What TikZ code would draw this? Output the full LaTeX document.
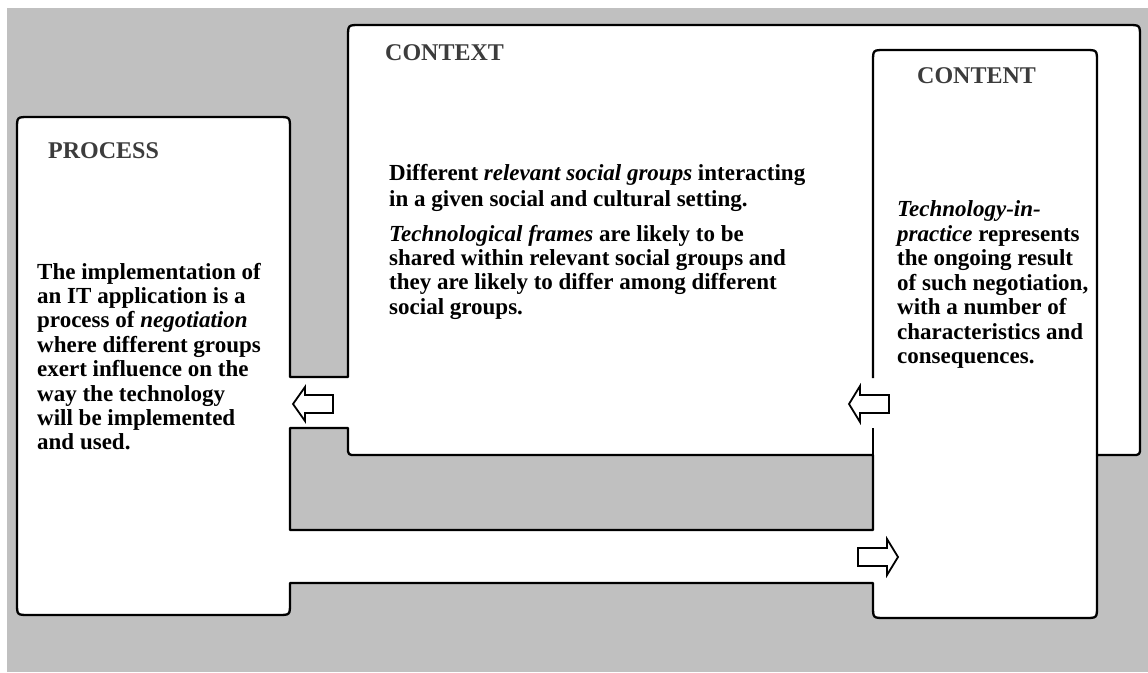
\documentclass[tikz,border=0pt]{standalone}
\usepackage{fontspec}
\setmainfont{Liberation Serif}
\definecolor{bggray}{RGB}{192,192,192}
\definecolor{titlegray}{RGB}{60,60,60}
\tikzset{
  outline/.style={line width=2.3pt, line join=round},
  blockarrow/.style={draw=black, fill=white, line width=1.8pt, line join=miter},
  txt/.style={anchor=base west, inner sep=0pt, font=\bfseries\fontsize{23}{24.5}\selectfont},
  ttl/.style={anchor=base west, inner sep=0pt, text=titlegray, font=\bfseries\fontsize{24}{26}\selectfont}
}
\begin{document}
\begin{tikzpicture}[x=1pt,y=-1pt]
\useasboundingbox (0,0) rectangle (1148,672);
\fill[white] (0,0) rectangle (1148,672);
\fill[bggray] (7,8) rectangle (1148,672);
% white region (union of boxes and channels) with a hole
\fill[white, even odd rule]
  (17,129) .. controls (17,117) .. (29,117) -- (278,117) .. controls (290,117) .. (290,129)
  -- (290,377) -- (348,377) -- (348,37) .. controls (348,25) .. (360,25)
  -- (1128,25) .. controls (1140,25) .. (1140,37) -- (1140,447) .. controls (1140,455) .. (1132,455)
  -- (1097,455) -- (1097,606) .. controls (1097,618) .. (1085,618) -- (885,618) .. controls (873,618) .. (873,606)
  -- (873,583) -- (290,583) -- (290,603) .. controls (290,615) .. (278,615) -- (29,615) .. controls (17,615) .. (17,603) -- cycle
  (290,428) -- (348,428) -- (348,447) .. controls (348,455) .. (356,455) -- (873,455) -- (873,530) -- (290,530) -- cycle;
% outer outline
\draw[outline]
  (17,129) .. controls (17,117) .. (29,117) -- (278,117) .. controls (290,117) .. (290,129)
  -- (290,377) -- (348,377) -- (348,37) .. controls (348,25) .. (360,25)
  -- (1128,25) .. controls (1140,25) .. (1140,37) -- (1140,447) .. controls (1140,455) .. (1132,455)
  -- (1097,455) -- (1097,606) .. controls (1097,618) .. (1085,618) -- (885,618) .. controls (873,618) .. (873,606)
  -- (873,583) -- (290,583) -- (290,603) .. controls (290,615) .. (278,615) -- (29,615) .. controls (17,615) .. (17,603) -- cycle;
% hole outline
\draw[outline] (290,428) -- (348,428) -- (348,447) .. controls (348,455) .. (356,455) -- (873,455) -- (873,530) -- (290,530) -- cycle;
% content box upper outline inside the context area
\draw[outline] (873,378) -- (873,62) .. controls (873,50) .. (885,50) -- (1085,50) .. controls (1097,50) .. (1097,62) -- (1097,455);
\draw[outline] (873,428) -- (873,455);
% block arrows
\draw[blockarrow] (293,404) -- (305,387) -- (305,395) -- (333,395) -- (333,413) -- (305,413) -- (305,421) -- cycle;
\draw[blockarrow] (849,404) -- (860,386) -- (860,395) -- (889,395) -- (889,413) -- (860,413) -- (860,422) -- cycle;
\draw[blockarrow] (898,557) -- (887,539) -- (887,548) -- (858,548) -- (858,566) -- (887,566) -- (887,575) -- cycle;
% titles
\node[ttl] (tproc) at (48,158) {PROCESS};
\node[ttl] (tctx) at (385,60) {CONTEXT};
\node[ttl] (tcnt) at (917,83) {CONTENT};
% context text
\node[txt] (c1) at (389,180) {Different \textit{relevant social groups} interacting};
\node[txt] (c2) at (389,206) {in a given social and cultural setting.};
\node[txt] (c3) at (389,241) {\textit{Technological frames} are likely to be};
\node[txt] (c4) at (389,265) {shared within relevant social groups and};
\node[txt] (c5) at (389,289) {they are likely to differ among different};
\node[txt] (c6) at (389,314) {social groups.};
% process text
\node[txt] (p1) at (37,279) {The implementation of};
\node[txt] (p2) at (37,303) {an IT application is a};
\node[txt] (p3) at (37,327) {process of \textit{negotiation}};
\node[txt] (p4) at (37,352) {where different groups};
\node[txt] (p5) at (37,376) {exert influence on the};
\node[txt] (p6) at (37,401) {way the technology};
\node[txt] (p7) at (37,425) {will be implemented};
\node[txt] (p8) at (37,449) {and used.};
% content text
\node[txt] (n1) at (897,216) {\textit{Technology-in-}};
\node[txt] (n2) at (897,241) {\textit{practice} represents};
\node[txt] (n3) at (897,265) {the ongoing result};
\node[txt] (n4) at (897,290) {of such negotiation,};
\node[txt] (n5) at (897,314) {with a number of};
\node[txt] (n6) at (897,339) {characteristics and};
\node[txt] (n7) at (897,363) {consequences.};
\end{tikzpicture}
\end{document}
